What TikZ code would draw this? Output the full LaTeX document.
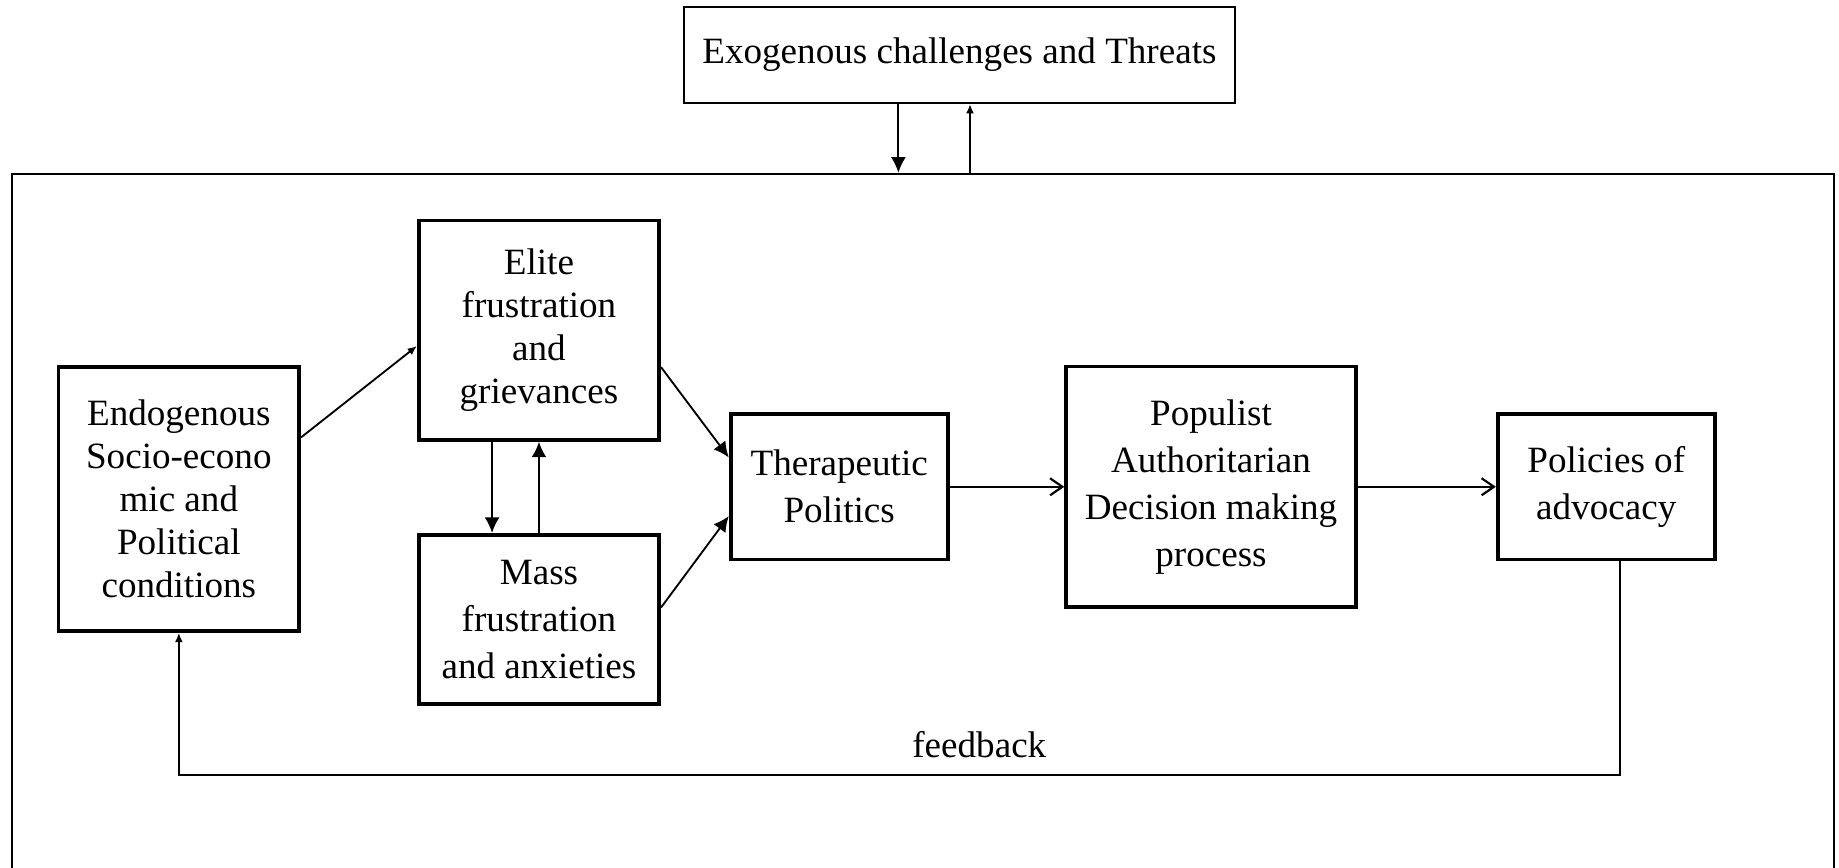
\documentclass[tikz,border=0pt]{standalone}
\usepackage{fontspec}
\setmainfont{Liberation Serif}
\usetikzlibrary{arrows.meta}
\begin{document}
\begin{tikzpicture}[node distance=1.5cm, auto]
        % Define styles
        \tikzstyle{box} = [rectangle, minimum width=2.733cm, text centered, align=center, draw=black, line width=1.2pt, inner sep=2pt, font=\fontsize{12}{13.9}\selectfont]
        \tikzstyle{widebox} = [box, font=\fontsize{12}{15.2}\selectfont]
        \tikzstyle{thinbox} = [rectangle, draw=black, line width=0.6pt, font=\fontsize{12}{13.9}\selectfont]
        \tikzstyle{arrow} = [line width=0.6pt, -{Latex[length=5pt,width=4.8pt]}]
        \tikzstyle{smallarrow} = [line width=0.6pt, -{Latex[length=3pt,width=2.6pt]}]
        \tikzstyle{openarrow} = [line width=0.7pt, -{Straight Barb[length=4pt,width=5.5pt]}]

        \useasboundingbox (0,0) rectangle (20.906,9.867);

        % Nodes
        \node (exo) [thinbox, minimum width=6.267cm, minimum height=1.093cm] at (10.907,9.24) {Exogenous challenges and Threats};
        \node (frame) [thinbox, minimum width=20.72cm, minimum height=8.4cm] at (10.493,3.693) {};
        \node (endo) [box, minimum height=3cm] at (2.033,4.193) {Endogenous\\Socio-econo\\mic and\\Political\\conditions};
        \node (elite) [box, minimum height=2.493cm] at (6.127,6.113) {Elite\\frustration\\and\\grievances};
        \node (mass) [widebox, minimum height=1.92cm, below of=elite, node distance=3.286cm] {Mass\\frustration\\and anxieties};
        \node (thera) [widebox, minimum width=2.467cm, minimum height=1.653cm] at (9.54,4.333) {Therapeutic\\Politics};
        \node (popu) [widebox, minimum width=3.293cm, minimum height=2.733cm, right of=thera, node distance=4.227cm] {Populist\\Authoritarian\\Decision making\\process};
        \node (poli) [widebox, minimum width=2.467cm, minimum height=1.653cm, right of=popu, node distance=4.493cm] {Policies of\\advocacy};
        \node (fblabel) [font=\fontsize{12}{13.9}\selectfont] at (11.133,1.4) {feedback};
        \coordinate (fb) at (0,1.053);

        % Arrows
        \draw [arrow] ([xshift=-0.694cm]exo.south) -- ([xshift=-0.694cm]exo.south |- frame.north);
        \draw [smallarrow] ([xshift=0.12cm]exo.south |- frame.north) -- ([xshift=0.12cm]exo.south);
        \draw [smallarrow] ([yshift=0.7cm]endo.east) -- ([yshift=-0.18cm]elite.west);
        \draw [arrow] ([xshift=-0.533cm]elite.south) -- ([xshift=-0.533cm]mass.north);
        \draw [arrow] (mass.north) -- (elite.south);
        \draw [arrow] ([yshift=-0.42cm]elite.east) -- ([yshift=0.333cm]thera.west);
        \draw [arrow] ([yshift=0.133cm]mass.east) -- ([yshift=-0.333cm]thera.west);
        \draw [openarrow] (thera.east) -- (thera.east -| popu.west);
        \draw [openarrow] (popu.east |- poli.west) -- (poli.west);
        \draw [smallarrow] ([xshift=0.153cm]poli.south) |- (endo.south |- fb) -- (endo.south);
    \end{tikzpicture}
\end{document}
